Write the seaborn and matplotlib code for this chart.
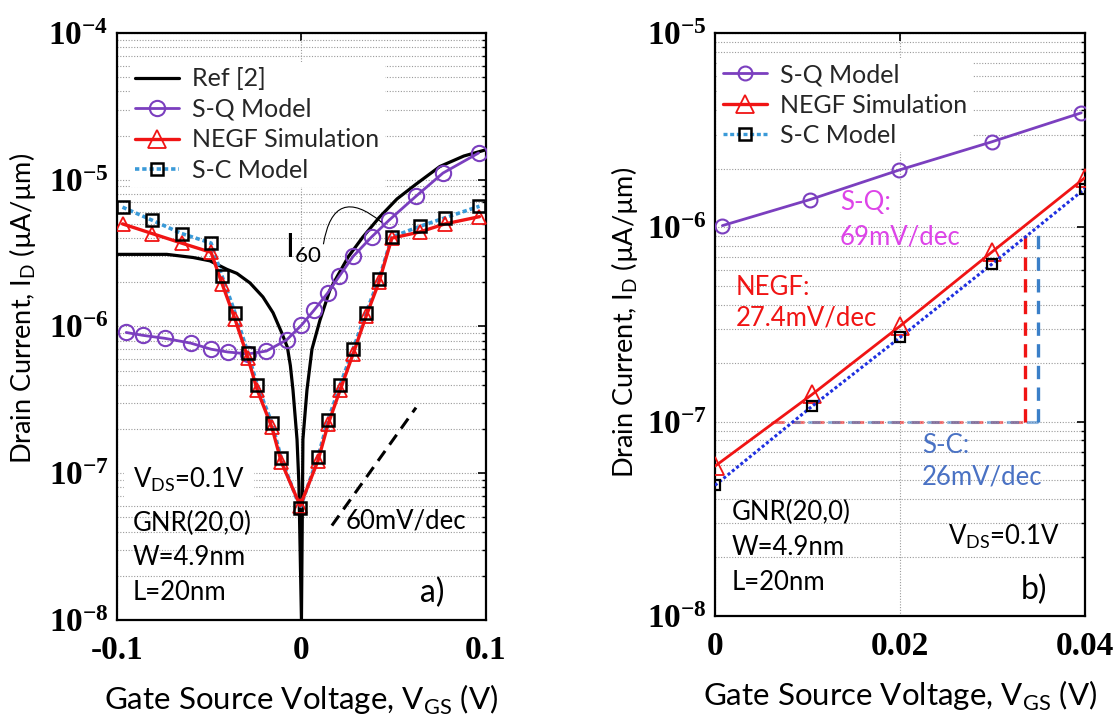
import numpy as np
import matplotlib
matplotlib.use('Agg')
import matplotlib.pyplot as plt
import seaborn as sns
from matplotlib.lines import Line2D
from matplotlib.ticker import FixedLocator, LogLocator, NullFormatter

sns.set_theme(style='white')
plt.rcParams['font.family'] = ['Lato', 'DejaVu Sans']
plt.rcParams['mathtext.fontset'] = 'custom'
plt.rcParams['mathtext.rm'] = 'Lato'
plt.rcParams['mathtext.bf'] = 'Liberation Serif:bold'
plt.rcParams['axes.unicode_minus'] = False

# ---- panel a) : full sweep ----
vgs_ref = [-0.1, -0.073, -0.0587, -0.0496, -0.0404, -0.035, -0.0279, -0.0209, -0.0154, -0.0106,
           -0.0076, -0.006, -0.0046, -0.0024, -0.0014, 0.0, 0.0008, 0.003, 0.0057, 0.010, 0.0154,
           0.0192, 0.0255, 0.0333, 0.0420, 0.0518, 0.062, 0.075, 0.088, 0.1]
ref_a = [3.1e-6, 3.1e-6, 2.95e-6, 2.8e-6, 2.45e-6, 2.3e-6, 1.98e-6, 1.59e-6, 1.24e-6, 9.0e-7,
         7.2e-7, 5.4e-7, 3.7e-7, 1.7e-7, 8.6e-8, 1.0e-8, 1.7e-7, 3.7e-7, 7.0e-7, 1.1e-6, 1.77e-6,
         2.17e-6, 3.0e-6, 4.07e-6, 5.5e-6, 7.4e-6, 9.3e-6, 1.23e-5, 1.45e-5, 1.6e-5]

vgs_sq_a = [-0.095, -0.086, -0.074, -0.060, -0.049, -0.040, -0.029, -0.019, -0.008, 0.0, 0.0068,
            0.0142, 0.0205, 0.028, 0.038, 0.0475, 0.062, 0.0767, 0.096]
sq_a = [9.1e-7, 8.7e-7, 8.3e-7, 7.7e-7, 7.0e-7, 6.7e-7, 6.5e-7, 6.8e-7, 8.1e-7, 1.02e-6, 1.29e-6,
        1.69e-6, 2.2e-6, 3.0e-6, 4.07e-6, 5.3e-6, 7.7e-6, 1.11e-5, 1.52e-5]

vgs_a = [-0.097, -0.081, -0.065, -0.049, -0.043, -0.036, -0.029, -0.024, -0.016, -0.011, -0.0007,
         0.009, 0.0144, 0.021, 0.028, 0.035, 0.042, 0.049, 0.064, 0.0778, 0.0965]
negf_a = [5.0e-6, 4.3e-6, 3.7e-6, 3.2e-6, 1.95e-6, 1.12e-6, 6.1e-7, 3.7e-7, 2.05e-7, 1.2e-7, 6.0e-8,
          1.22e-7, 2.15e-7, 3.7e-7, 6.5e-7, 1.17e-6, 2.0e-6, 4.0e-6, 4.4e-6, 5.0e-6, 5.6e-6]
sc_a = [6.5e-6, 5.3e-6, 4.3e-6, 3.7e-6, 2.2e-6, 1.24e-6, 6.6e-7, 4.0e-7, 2.2e-7, 1.27e-7, 5.8e-8,
        1.3e-7, 2.3e-7, 4.0e-7, 7.0e-7, 1.24e-6, 2.1e-6, 4.07e-6, 4.8e-6, 5.5e-6, 6.6e-6]

slope60_v = [0.0165, 0.0621]
slope60_i = [4.4e-8, 2.8e-7]

# ---- panel b) : zoom on subthreshold ----
vgs_b = [0.0, 0.0105, 0.02, 0.03, 0.04]
vgs_sq_b = [0.0008, 0.0103, 0.0199, 0.0299, 0.0396]
sq_b = [1.02e-6, 1.39e-6, 1.97e-6, 2.75e-6, 3.88e-6]
negf_b = [5.9e-8, 1.38e-7, 3.1e-7, 7.5e-7, 1.8e-6]
sc_b = [4.7e-8, 1.2e-7, 2.71e-7, 6.5e-7, 1.58e-6]

yticks_a = [1e-8, 1e-7, 1e-6, 1e-5, 1e-4]
yticks_b = [1e-8, 1e-7, 1e-6, 1e-5]

purple = '#7b3fbf'
red = '#f01414'
lblue = '#3a9ad8'
dblue = '#1f30e0'
grid_kw = dict(color='#9a9a9a', lw=0.8, ls=(0, (1, 1.5)))

fig = plt.figure(figsize=(11.14, 7.15), dpi=100)
ax1 = fig.add_axes([0.1050, 0.1329, 0.3312, 0.8210])
ax2 = fig.add_axes([0.6418, 0.1385, 0.3321, 0.8154])


def style_axis(ax, yticks, xticks, xlabels):
    ax.set_yscale('log')
    ax.yaxis.set_major_locator(FixedLocator(yticks))
    ax.yaxis.set_minor_locator(LogLocator(base=10, subs=np.arange(2, 10)))
    ax.yaxis.set_minor_formatter(NullFormatter())
    ax.set_yticklabels([r'$\mathbf{10^{%d}}$' % int(np.log10(t)) for t in yticks])
    ax.set_xticks(xticks)
    ax.set_xticklabels(xlabels)
    for lab in ax.get_xticklabels() + ax.get_yticklabels():
        lab.set_fontfamily('Liberation Serif')
        lab.set_fontweight('bold')
        lab.set_fontsize(24)
        lab.set_color('black')
    ax.tick_params(which='both', direction='in', top=True, right=True, colors='black')
    ax.tick_params(which='major', length=6, width=1.2)
    ax.tick_params(axis='y', which='major', pad=6)
    ax.tick_params(axis='x', which='major', pad=11)
    ax.tick_params(which='minor', length=3, width=1.0)
    ax.yaxis.grid(True, which='both', **grid_kw)
    ax.xaxis.grid(True, which='major', **grid_kw)
    for s in ax.spines.values():
        s.set_color('black')
        s.set_linewidth(1.6)
    ax.set_xlabel(r'Gate Source Voltage, V$_{\mathrm{GS}}$ (V)', fontsize=22.5, color='black', labelpad=12)
    ax.set_ylabel(r'Drain Current, I$_{\mathrm{D}}$ (µA/µm)', fontsize=19.5, color='black')


# panel a
sns.lineplot(x=vgs_ref, y=ref_a, ax=ax1, color='black', lw=2.3, sort=False, estimator=None, zorder=3)
sns.lineplot(x=vgs_sq_a, y=sq_a, ax=ax1, color=purple, lw=2.0, marker='o', markersize=11,
             markerfacecolor='none', markeredgecolor=purple, markeredgewidth=1.5,
             sort=False, estimator=None, zorder=3)
sns.lineplot(x=vgs_a, y=sc_a, ax=ax1, color=lblue, lw=2.6, ls=(0, (1.2, 0.8)), sort=False,
             estimator=None, zorder=3)
sns.lineplot(x=vgs_a, y=negf_a, ax=ax1, color=red, lw=2.4, marker='^', markersize=10,
             markerfacecolor='none', markeredgecolor=red, markeredgewidth=1.3,
             sort=False, estimator=None, zorder=4)
sns.lineplot(x=vgs_a, y=sc_a, ax=ax1, color='black', lw=0, marker='s', markersize=8.5,
             markerfacecolor='none', markeredgecolor='black', markeredgewidth=1.8,
             sort=False, estimator=None, zorder=5)
ax1.plot(slope60_v, slope60_i, color='black', lw=2.2, ls=(0, (4, 2.5)), zorder=3)
ax1.set_xlim(-0.1, 0.1)
ax1.set_ylim(1e-8, 1e-4)
style_axis(ax1, yticks_a, [-0.1, 0, 0.1], ['-0.1', '0', '0.1'])
ax1.yaxis.set_label_coords(-0.215, 0.531)

leg_kw = dict(loc='upper left', fontsize=18, frameon=True, facecolor='white', edgecolor='none',
              framealpha=1, fancybox=False, handlelength=1.75, handletextpad=0.55,
              labelspacing=0.3, borderpad=0.2, borderaxespad=0)
h_ref = Line2D([], [], color='black', lw=2.3)
h_sq = Line2D([], [], color=purple, lw=2.0, marker='o', markersize=11, markerfacecolor='none',
              markeredgecolor=purple, markeredgewidth=1.5)
h_negf = Line2D([], [], color=red, lw=2.4, marker='^', markersize=13, markerfacecolor='none',
                markeredgecolor=red, markeredgewidth=1.3)
h_sc = Line2D([], [], color=lblue, lw=2.6, ls=(0, (1.2, 0.8)), marker='s', markersize=8.5,
              markerfacecolor='none', markeredgecolor='black', markeredgewidth=1.8)
leg1 = ax1.legend([h_ref, h_sq, h_negf, h_sc], ['Ref [2]', 'S-Q Model', 'NEGF Simulation', 'S-C Model'],
                  bbox_to_anchor=(0.035, 0.95), **leg_kw)
leg1.set_zorder(2.5)

txt = dict(fontsize=18.5, color='black', transform=ax1.transAxes, va='center', ha='left')
ax1.text(0.043, 0.2385, r'V$_{\mathrm{DS}}$=0.1V', backgroundcolor='white', **txt)
ax1.text(0.043, 0.165, 'GNR(20,0)', **txt)
ax1.text(0.043, 0.1056, 'W=4.9nm', **txt)
ax1.text(0.043, 0.046, 'L=20nm', **txt)
ax1.text(0.62, 0.169, '60mV/dec', **txt)
ax1.text(0.82, 0.046, 'a)', fontsize=23, color='black', transform=ax1.transAxes, va='center', ha='left')
ax1.text(0.455, 0.617, r'I$_{\mathrm{60}}$', fontsize=23, color='black', transform=ax1.transAxes,
         va='baseline', ha='left')
ax1.annotate('', xy=(0.0445, 5.0e-6), xytext=(0.0117, 3.5e-6),
             arrowprops=dict(arrowstyle='-', color='black', lw=0.8,
                             connectionstyle='arc3,rad=-0.9'))

# panel b
sns.lineplot(x=vgs_sq_b, y=sq_b, ax=ax2, color=purple, lw=2.0, marker='o', markersize=10,
             markerfacecolor='none', markeredgecolor=purple, markeredgewidth=1.5,
             sort=False, estimator=None, zorder=3)
sns.lineplot(x=vgs_b, y=negf_b, ax=ax2, color=red, lw=2.0, marker='^', markersize=13,
             markerfacecolor='none', markeredgecolor=red, markeredgewidth=1.3,
             sort=False, estimator=None, zorder=3)
sns.lineplot(x=vgs_b, y=sc_b, ax=ax2, color=dblue, lw=2.2, ls=(0, (1, 0.8)), marker='s', markersize=7,
             markerfacecolor='none', markeredgecolor='black', markeredgewidth=1.6,
             sort=False, estimator=None, zorder=4)
ax2.plot([0.0062, 0.0335], [1e-7, 1e-7], color=red, lw=2.2, ls=(0, (4, 2.5)), alpha=0.55, zorder=2)
ax2.plot([0.0085, 0.0349], [1e-7, 1e-7], color='#3a7fc8', lw=2.2, ls=(2, (4, 2.5)), alpha=0.55, zorder=2)
ax2.plot([0.0335, 0.0335], [1e-7, 9.5e-7], color=red, lw=2.4, ls=(0, (4, 2.5)), zorder=2)
ax2.plot([0.0349, 0.0349], [1e-7, 1.0e-6], color='#3a7fc8', lw=2.4, ls=(0, (4, 2.5)), zorder=2)
ax2.set_xlim(0, 0.04)
ax2.set_ylim(1e-8, 1e-5)
style_axis(ax2, yticks_b, [0, 0.02, 0.04], ['0', '0.02', '0.04'])
ax2.yaxis.set_label_coords(-0.203, 0.503)

h_sq2 = Line2D([], [], color=purple, lw=2.0, marker='o', markersize=10, markerfacecolor='none',
               markeredgecolor=purple, markeredgewidth=1.5)
h_negf2 = Line2D([], [], color=red, lw=2.4, marker='^', markersize=13, markerfacecolor='none',
                 markeredgecolor=red, markeredgewidth=1.3)
h_sc2 = Line2D([], [], color=lblue, lw=2.4, ls=(0, (1.2, 0.8)), marker='s', markersize=8,
               markerfacecolor='none', markeredgecolor='black', markeredgewidth=1.8)
leg2 = ax2.legend([h_sq2, h_negf2, h_sc2], ['S-Q Model', 'NEGF Simulation', 'S-C Model'],
                  bbox_to_anchor=(0.008, 0.957), **leg_kw)
leg2.set_zorder(2.5)

txt2 = dict(fontsize=18.5, transform=ax2.transAxes, va='center', ha='left')
ax2.text(0.338, 0.710, 'S-Q:', color='#dd44e8', **txt2)
ax2.text(0.338, 0.650, '69mV/dec', color='#dd44e8', **txt2)
ax2.text(0.057, 0.564, 'NEGF:', color=red, **txt2)
ax2.text(0.057, 0.511, '27.4mV/dec', color=red, **txt2)
ax2.text(0.559, 0.293, 'S-C:', color='#4a72c4', **txt2)
ax2.text(0.559, 0.238, '26mV/dec', color='#4a72c4', **txt2)
ax2.text(0.046, 0.177, 'GNR(20,0)', color='black', **txt2)
ax2.text(0.046, 0.117, 'W=4.9nm', color='black', **txt2)
ax2.text(0.046, 0.058, 'L=20nm', color='black', **txt2)
ax2.text(0.63, 0.136, r'V$_{\mathrm{DS}}$=0.1V', color='black', **txt2)
ax2.text(0.827, 0.045, 'b)', fontsize=23, color='black', transform=ax2.transAxes, va='center', ha='left')

fig.savefig('out.png', dpi=100, facecolor='white')
